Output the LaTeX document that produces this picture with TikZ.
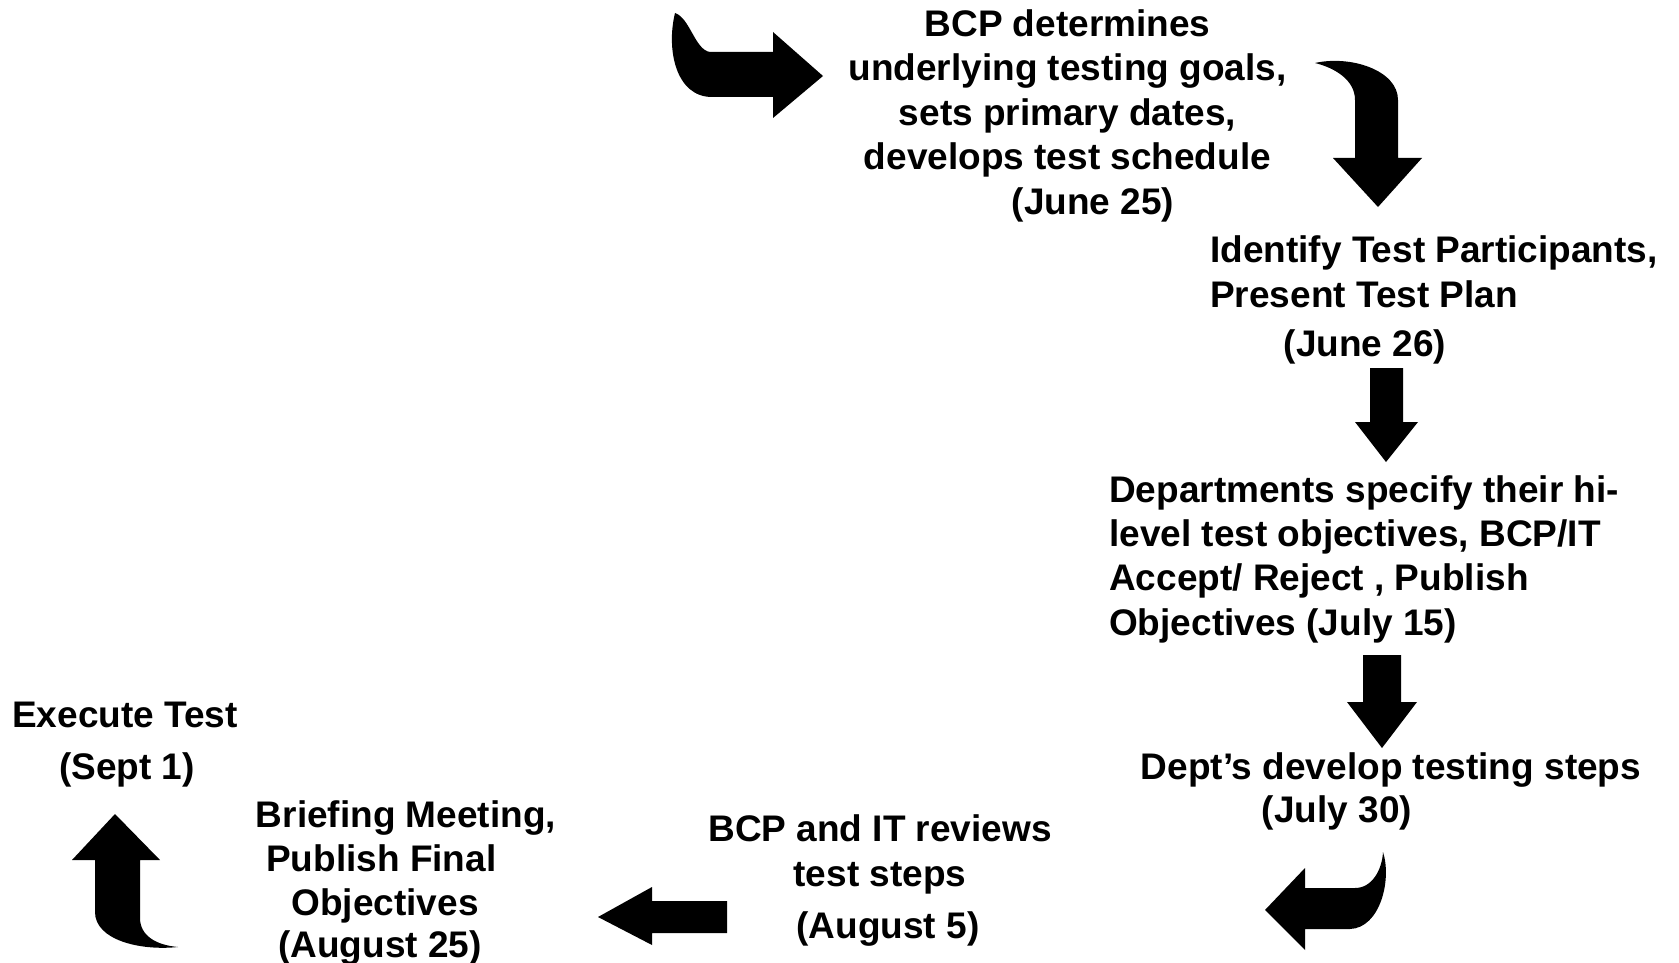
\documentclass[tikz,border=0pt]{standalone}
\usepackage{fontspec}
\setmainfont{Liberation Sans}
\tikzset{
  lbl/.style={font=\fontsize{37}{44}\selectfont\bfseries, inner sep=0pt, anchor=base},
  lbll/.style={lbl, anchor=base west},
  blockarrow/.style={fill=black, draw=none}
}
\begin{document}
\begin{tikzpicture}[x=1pt,y=-1pt]
\useasboundingbox (0,0) rectangle (1679,963);

% texts
\node[lbl] (b1a) at (1067.5,36.5) {BCP determines};
\node[lbl] (b1b) at (1067.5,81) {underlying testing goals,};
\node[lbl] (b1c) at (1067.5,125.5) {sets primary dates,};
\node[lbl] (b1d) at (1067.5,170) {develops test schedule};
\node[lbl] (b1e) at (1093,214) {(June 25)};

\node[lbll] (b2a) at (1210,262.5) {Identify Test Participants,};
\node[lbll] (b2b) at (1210,307) {Present Test Plan};
\node[lbl] (b2c) at (1365,356) {(June 26)};

\node[lbll] (b3a) at (1109,502) {Departments specify their hi-};
\node[lbll] (b3b) at (1109,546) {level test objectives, BCP/IT};
\node[lbll] (b3c) at (1109,590.5) {Accept/ Reject , Publish};
\node[lbll] (b3d) at (1109,635) {Objectives (July 15)};

\node[lbl] (b4a) at (1391,779) {Dept’s develop testing steps};
\node[lbl] (b4b) at (1337,822) {(July 30)};

\node[lbl] (b5a) at (880,841) {BCP and IT reviews};
\node[lbl] (b5b) at (880,886) {test steps};
\node[lbl] (b5c) at (888,938) {(August 5)};

\node[lbl] (b6a) at (406,827) {Briefing Meeting,};
\node[lbll] (b6b) at (266,871) {Publish Final};
\node[lbl] (b6c) at (385,915) {Objectives};
\node[lbl] (b6d) at (380,957) {(August 25)};

\node[lbl] (b7a) at (125,727) {Execute Test};
\node[lbl] (b7b) at (127,779) {(Sept 1)};

% arrows
% top-left curved, pointing right
\fill[blockarrow] (675,13) .. controls (690,18) and (695,50) .. (710,52)
  -- (773,52) -- (773,32) -- (823,76) -- (773,118) -- (773,97) -- (712,97)
  .. controls (676,97) and (666,50) .. (675,13) -- cycle;
% top-right curved, pointing down
\fill[blockarrow] (1315,63) .. controls (1350,55) and (1398,70) .. (1398,100)
  -- (1398,158) -- (1422,158) -- (1378,207) -- (1333,158) -- (1355,158) -- (1355,100)
  .. controls (1355,80) and (1335,68) .. (1315,63) -- cycle;
% straight down 1
\fill[blockarrow] (1370,368) -- (1403,368) -- (1403,422) -- (1418,422) -- (1386,462)
  -- (1355,422) -- (1370,422) -- cycle;
% straight down 2
\fill[blockarrow] (1363,655) -- (1401,655) -- (1401,702) -- (1417,702) -- (1382,748)
  -- (1347,702) -- (1363,702) -- cycle;
% bottom-right curved, pointing left
\fill[blockarrow] (1383,852) .. controls (1392,880) and (1380,928) .. (1350,929)
  -- (1305,929) -- (1305,950) -- (1265,910) -- (1305,868) -- (1305,888) -- (1355,888)
  .. controls (1372,888) and (1382,870) .. (1383,852) -- cycle;
% straight left
\fill[blockarrow] (727,901) -- (652,901) -- (652,887) -- (598,917) -- (652,945)
  -- (652,933) -- (727,933) -- cycle;
% bottom-left curved, pointing up
\fill[blockarrow] (115,814) -- (160,860) -- (140,860) -- (140,918)
  .. controls (140,935) and (155,945) .. (178,947)
  .. controls (140,951) and (95,940) .. (95,912) -- (95,860) -- (72,860) -- cycle;
\end{tikzpicture}
\end{document}
